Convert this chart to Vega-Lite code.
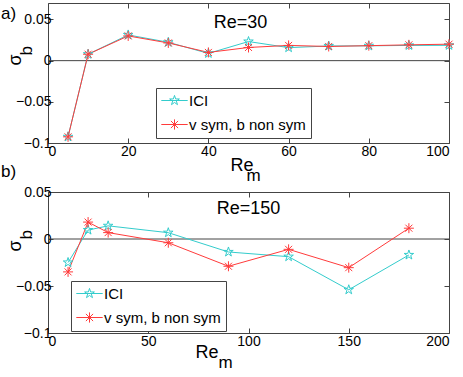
{
  "$schema": "https://vega.github.io/schema/vega-lite/v6.json",
  "background": "white",
  "padding": {"left": 0, "top": 2, "right": 0, "bottom": 0},
  "bounds": "flush",
  "spacing": 49,
  "config": {
    "font": "Liberation Sans",
    "view": {"stroke": "#444", "strokeWidth": 1},
    "axis": {
      "domain": false, "grid": false, "tickColor": "#444", "tickSize": -5,
      "labelFontSize": 14, "labelColor": "#000", "labelFont": "Liberation Sans",
      "titleFontSize": 18, "titleFontWeight": "normal", "titleColor": "#000", "titleFont": "Liberation Sans"
    },
    "legend": {
      "strokeColor": "#444", "fillColor": "white", "padding": 5, "labelFontSize": 15,
      "labelFont": "Liberation Sans", "labelColor": "#000", "rowPadding": 8, "symbolOffset": 6, "labelOffset": 7
    }
  },
  "datasets": {
    "a": [
      {"Rem": 5, "sigma": -0.0925, "series": "ICI"},
      {"Rem": 10, "sigma": 0.0078, "series": "ICI"},
      {"Rem": 20, "sigma": 0.0312, "series": "ICI"},
      {"Rem": 30, "sigma": 0.0223, "series": "ICI"},
      {"Rem": 40, "sigma": 0.0088, "series": "ICI"},
      {"Rem": 50, "sigma": 0.0232, "series": "ICI"},
      {"Rem": 60, "sigma": 0.0158, "series": "ICI"},
      {"Rem": 70, "sigma": 0.0178, "series": "ICI"},
      {"Rem": 80, "sigma": 0.018, "series": "ICI"},
      {"Rem": 90, "sigma": 0.0185, "series": "ICI"},
      {"Rem": 100, "sigma": 0.0186, "series": "ICI"},
      {"Rem": 5, "sigma": -0.0925, "series": "v sym, b non sym"},
      {"Rem": 10, "sigma": 0.0078, "series": "v sym, b non sym"},
      {"Rem": 20, "sigma": 0.03, "series": "v sym, b non sym"},
      {"Rem": 30, "sigma": 0.0215, "series": "v sym, b non sym"},
      {"Rem": 40, "sigma": 0.01, "series": "v sym, b non sym"},
      {"Rem": 50, "sigma": 0.016, "series": "v sym, b non sym"},
      {"Rem": 60, "sigma": 0.0185, "series": "v sym, b non sym"},
      {"Rem": 70, "sigma": 0.0172, "series": "v sym, b non sym"},
      {"Rem": 80, "sigma": 0.0182, "series": "v sym, b non sym"},
      {"Rem": 90, "sigma": 0.0192, "series": "v sym, b non sym"},
      {"Rem": 100, "sigma": 0.02, "series": "v sym, b non sym"}
    ],
    "b": [
      {"Rem": 10, "sigma": -0.025, "series": "ICI"},
      {"Rem": 20, "sigma": 0.0095, "series": "ICI"},
      {"Rem": 30, "sigma": 0.014, "series": "ICI"},
      {"Rem": 60, "sigma": 0.0067, "series": "ICI"},
      {"Rem": 90, "sigma": -0.0138, "series": "ICI"},
      {"Rem": 120, "sigma": -0.0188, "series": "ICI"},
      {"Rem": 150, "sigma": -0.054, "series": "ICI"},
      {"Rem": 180, "sigma": -0.017, "series": "ICI"},
      {"Rem": 10, "sigma": -0.035, "series": "v sym, b non sym"},
      {"Rem": 20, "sigma": 0.018, "series": "v sym, b non sym"},
      {"Rem": 30, "sigma": 0.0068, "series": "v sym, b non sym"},
      {"Rem": 60, "sigma": -0.004, "series": "v sym, b non sym"},
      {"Rem": 90, "sigma": -0.029, "series": "v sym, b non sym"},
      {"Rem": 120, "sigma": -0.011, "series": "v sym, b non sym"},
      {"Rem": 150, "sigma": -0.0305, "series": "v sym, b non sym"},
      {"Rem": 180, "sigma": 0.0115, "series": "v sym, b non sym"}
    ]
  },
  "resolve": {"scale": {"color": "independent"}, "legend": {"color": "independent"}},
  "vconcat": [
    {
      "width": 401, "height": 140,
      "title": {"text": "a)", "anchor": "start", "frame": "bounds", "fontSize": 17, "fontWeight": "normal", "color": "#000", "dx": -5, "dy": 20, "offset": 0},
      "data": {"name": "a"},
      "resolve": {"axis": {"x": "independent", "y": "independent"}},
      "layer": [
        {
          "data": {"values": [{}]},
          "mark": {"type": "rule", "color": "#444", "strokeWidth": 1},
          "encoding": {"y": {"datum": 0, "type": "quantitative", "axis": null}}
        },
        {
          "mark": {"type": "line", "strokeWidth": 1},
          "encoding": {
            "x": {"field": "Rem", "type": "quantitative", "scale": {"domain": [0, 100], "nice": false},
              "axis": {"orient": "bottom", "values": [0, 20, 40, 60, 80, 100], "labelPadding": 6, "title": "Re", "titleAlign": "left", "titleAnchor": "start", "titleX": 182, "titleY": 27, "titleBaseline": "alphabetic"}},
            "y": {"field": "sigma", "type": "quantitative", "scale": {"domain": [-0.1, 0.07], "nice": false, "zero": false},
              "axis": {"orient": "left", "values": [-0.1, -0.05, 0, 0.05], "format": "~g", "labelPadding": 2, "title": "\u03c3", "titleAlign": "left", "titleAnchor": "start", "titleX": -28, "titleY": 62, "titleBaseline": "alphabetic", "titleAngle": 270}},
            "color": {"field": "series", "type": "nominal",
              "scale": {"domain": ["ICI", "v sym, b non sym"], "range": ["#33cccc", "#ff3b3b"]},
              "legend": {"title": null, "orient": "none", "legendX": 108, "legendY": 85,
                "encode": {"symbols": {"update": {
                  "shape": {"signal": "datum.value === 'ICI' ? 'M-2.2,0L2.2,0M0,-0.85L0.19,-0.26L0.81,-0.26L0.31,0.1L0.5,0.69L0,0.33L-0.5,0.69L-0.31,0.1L-0.81,-0.26L-0.19,-0.26Z' : 'M-2.2,0L2.2,0M0,-0.85L0,0.85M-0.6,-0.6L0.6,0.6M-0.6,0.6L0.6,-0.6'"},
                  "size": {"value": 144}, "strokeWidth": {"value": 1}, "fill": {"value": "transparent"}}}}}}
          }
        },
        {
          "transform": [{"filter": "datum.series === 'ICI'"}],
          "mark": {"type": "point", "filled": false, "size": 100, "strokeWidth": 1, "color": "#33cccc", "opacity": 1,
            "shape": "M0,-1L0.225,-0.309L0.951,-0.309L0.363,0.118L0.588,0.809L0,0.382L-0.588,0.809L-0.363,0.118L-0.951,-0.309L-0.225,-0.309Z"},
          "encoding": {
            "x": {"field": "Rem", "type": "quantitative", "axis": {"orient": "top", "values": [0, 20, 40, 60, 80, 100], "labels": false, "title": null}},
            "y": {"field": "sigma", "type": "quantitative", "axis": {"orient": "right", "values": [-0.1, -0.05, 0, 0.05], "labels": false, "title": null}}
          }
        },
        {
          "transform": [{"filter": "datum.series !== 'ICI'"}],
          "mark": {"type": "point", "filled": false, "size": 100, "strokeWidth": 1, "color": "#ff3b3b", "opacity": 1,
            "shape": "M-1,0L1,0M0,-1L0,1M-0.7,-0.7L0.7,0.7M-0.7,0.7L0.7,-0.7"},
          "encoding": {"x": {"field": "Rem", "type": "quantitative", "axis": null}, "y": {"field": "sigma", "type": "quantitative", "axis": null}}
        },
        {
          "data": {"values": [{"label": "Re=30"}]},
          "mark": {"type": "text", "fontSize": 18, "baseline": "alphabetic", "align": "center", "color": "#000"},
          "encoding": {
            "x": {"datum": 48, "type": "quantitative", "axis": {"orient": "bottom", "labels": false, "ticks": false, "title": "m", "titleAlign": "left", "titleAnchor": "start", "titleX": 198, "titleY": 37, "titleBaseline": "alphabetic", "titleFontSize": 17}},
            "y": {"datum": 0.0395, "type": "quantitative", "axis": {"orient": "left", "labels": false, "ticks": false, "title": "b", "titleAlign": "left", "titleAnchor": "start", "titleX": -17, "titleY": 52, "titleBaseline": "alphabetic", "titleAngle": 270, "titleFontSize": 17}},
            "text": {"field": "label"}
          }
        }
      ]
    },
    {
      "width": 401, "height": 141,
      "title": {"text": "b)", "anchor": "start", "frame": "bounds", "fontSize": 17, "fontWeight": "normal", "color": "#000", "dx": -5, "dy": -4, "offset": 0},
      "data": {"name": "b"},
      "resolve": {"axis": {"x": "independent", "y": "independent"}},
      "layer": [
        {
          "data": {"values": [{}]},
          "mark": {"type": "rule", "color": "#444", "strokeWidth": 1},
          "encoding": {"y": {"datum": 0, "type": "quantitative", "axis": null}}
        },
        {
          "mark": {"type": "line", "strokeWidth": 1},
          "encoding": {
            "x": {"field": "Rem", "type": "quantitative", "scale": {"domain": [0, 200], "nice": false},
              "axis": {"orient": "bottom", "values": [0, 50, 100, 150, 200], "labelPadding": 6, "title": "Re", "titleAlign": "left", "titleAnchor": "start", "titleX": 147, "titleY": 24, "titleBaseline": "alphabetic"}},
            "y": {"field": "sigma", "type": "quantitative", "scale": {"domain": [-0.1, 0.05], "nice": false, "zero": false},
              "axis": {"orient": "left", "values": [-0.1, -0.05, 0, 0.05], "format": "~g", "labelPadding": 2, "title": "\u03c3", "titleAlign": "left", "titleAnchor": "start", "titleX": -28, "titleY": 59, "titleBaseline": "alphabetic", "titleAngle": 270}},
            "color": {"field": "series", "type": "nominal",
              "scale": {"domain": ["ICI", "v sym, b non sym"], "range": ["#33cccc", "#ff3b3b"]},
              "legend": {"title": null, "orient": "none", "legendX": 23, "legendY": 89,
                "encode": {"symbols": {"update": {
                  "shape": {"signal": "datum.value === 'ICI' ? 'M-2.2,0L2.2,0M0,-0.85L0.19,-0.26L0.81,-0.26L0.31,0.1L0.5,0.69L0,0.33L-0.5,0.69L-0.31,0.1L-0.81,-0.26L-0.19,-0.26Z' : 'M-2.2,0L2.2,0M0,-0.85L0,0.85M-0.6,-0.6L0.6,0.6M-0.6,0.6L0.6,-0.6'"},
                  "size": {"value": 144}, "strokeWidth": {"value": 1}, "fill": {"value": "transparent"}}}}}}
          }
        },
        {
          "transform": [{"filter": "datum.series === 'ICI'"}],
          "mark": {"type": "point", "filled": false, "size": 100, "strokeWidth": 1, "color": "#33cccc", "opacity": 1,
            "shape": "M0,-1L0.225,-0.309L0.951,-0.309L0.363,0.118L0.588,0.809L0,0.382L-0.588,0.809L-0.363,0.118L-0.951,-0.309L-0.225,-0.309Z"},
          "encoding": {
            "x": {"field": "Rem", "type": "quantitative", "axis": {"orient": "top", "values": [0, 50, 100, 150, 200], "labels": false, "title": null}},
            "y": {"field": "sigma", "type": "quantitative", "axis": {"orient": "right", "values": [-0.1, -0.05, 0, 0.05], "labels": false, "title": null}}
          }
        },
        {
          "transform": [{"filter": "datum.series !== 'ICI'"}],
          "mark": {"type": "point", "filled": false, "size": 100, "strokeWidth": 1, "color": "#ff3b3b", "opacity": 1,
            "shape": "M-1,0L1,0M0,-1L0,1M-0.7,-0.7L0.7,0.7M-0.7,0.7L0.7,-0.7"},
          "encoding": {"x": {"field": "Rem", "type": "quantitative", "axis": null}, "y": {"field": "sigma", "type": "quantitative", "axis": null}}
        },
        {
          "data": {"values": [{"label": "Re=150"}]},
          "mark": {"type": "text", "fontSize": 18, "baseline": "alphabetic", "align": "center", "color": "#000"},
          "encoding": {
            "x": {"datum": 100, "type": "quantitative", "axis": {"orient": "bottom", "labels": false, "ticks": false, "title": "m", "titleAlign": "left", "titleAnchor": "start", "titleX": 170, "titleY": 34, "titleBaseline": "alphabetic", "titleFontSize": 17}},
            "y": {"datum": 0.0266, "type": "quantitative", "axis": {"orient": "left", "labels": false, "ticks": false, "title": "b", "titleAlign": "left", "titleAnchor": "start", "titleX": -17, "titleY": 47, "titleBaseline": "alphabetic", "titleAngle": 270, "titleFontSize": 17}},
            "text": {"field": "label"}
          }
        }
      ]
    }
  ]
}
